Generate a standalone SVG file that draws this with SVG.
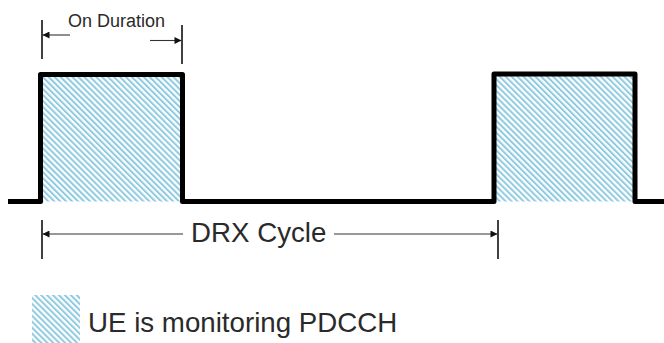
<svg xmlns="http://www.w3.org/2000/svg" width="664" height="343" viewBox="0 0 664 343">
<style>
.tick{stroke:#111;stroke-width:1.6;fill:none}
.dim{stroke:#333;stroke-width:1.1;fill:none}
.lbl{font-family:"Liberation Sans",Arial,sans-serif;fill:#2a2a2a}
.sig{stroke:#000;stroke-width:5;fill:none;stroke-linejoin:round}
</style>
<defs>
<pattern id="hatch" width="4.2" height="8" patternUnits="userSpaceOnUse" patternTransform="rotate(-45)">
<rect width="4.2" height="8" fill="#fff"/>
<line x1="1" y1="0" x2="1" y2="8" stroke="#8fcbe0" stroke-width="2"/>
</pattern>
<marker id="ah" viewBox="0 0 10 10" refX="10" refY="5" markerWidth="8" markerHeight="7" markerUnits="userSpaceOnUse" orient="auto">
<path d="M0,0 L10,5 L0,10 z" fill="#111"/>
</marker>
</defs>
<g id="on-periods">
<rect x="40.5" y="74.5" width="142" height="127" fill="url(#hatch)"/>
<rect x="494" y="74" width="141" height="127.5" fill="url(#hatch)"/>
</g>
<g id="signal">
<path class="sig" d="M8,201.5 H40.5 V74.5 H182.5 V201.5 H494 V74 H635 V201.5 H664"/>
</g>
<g id="connectors">
<line class="tick" x1="42" y1="20" x2="42" y2="59"/>
<line class="tick" x1="182" y1="25" x2="182" y2="64"/>
<line class="dim" x1="70" y1="35" x2="42.5" y2="35" marker-end="url(#ah)"/>
<line class="dim" x1="150" y1="40.5" x2="181.5" y2="40.5" marker-end="url(#ah)"/>
<line class="tick" x1="42" y1="220" x2="42" y2="259"/>
<line class="tick" x1="498" y1="220" x2="498" y2="259"/>
<line class="dim" x1="183" y1="234" x2="42.5" y2="234" marker-end="url(#ah)"/>
<line class="dim" x1="334" y1="234" x2="497.5" y2="234" marker-end="url(#ah)"/>
</g>
<g id="on-duration-label">
<text class="lbl" x="68" y="26.5" font-size="18">On Duration</text>
</g>
<g id="drx-cycle-label">
<text class="lbl" x="191" y="241.5" font-size="27.7">DRX Cycle</text>
</g>
<g id="legend">
<rect x="32" y="295" width="48" height="48" fill="url(#hatch)"/>
<text class="lbl" x="88" y="332" font-size="27.7">UE is monitoring PDCCH</text>
</g>
</svg>
